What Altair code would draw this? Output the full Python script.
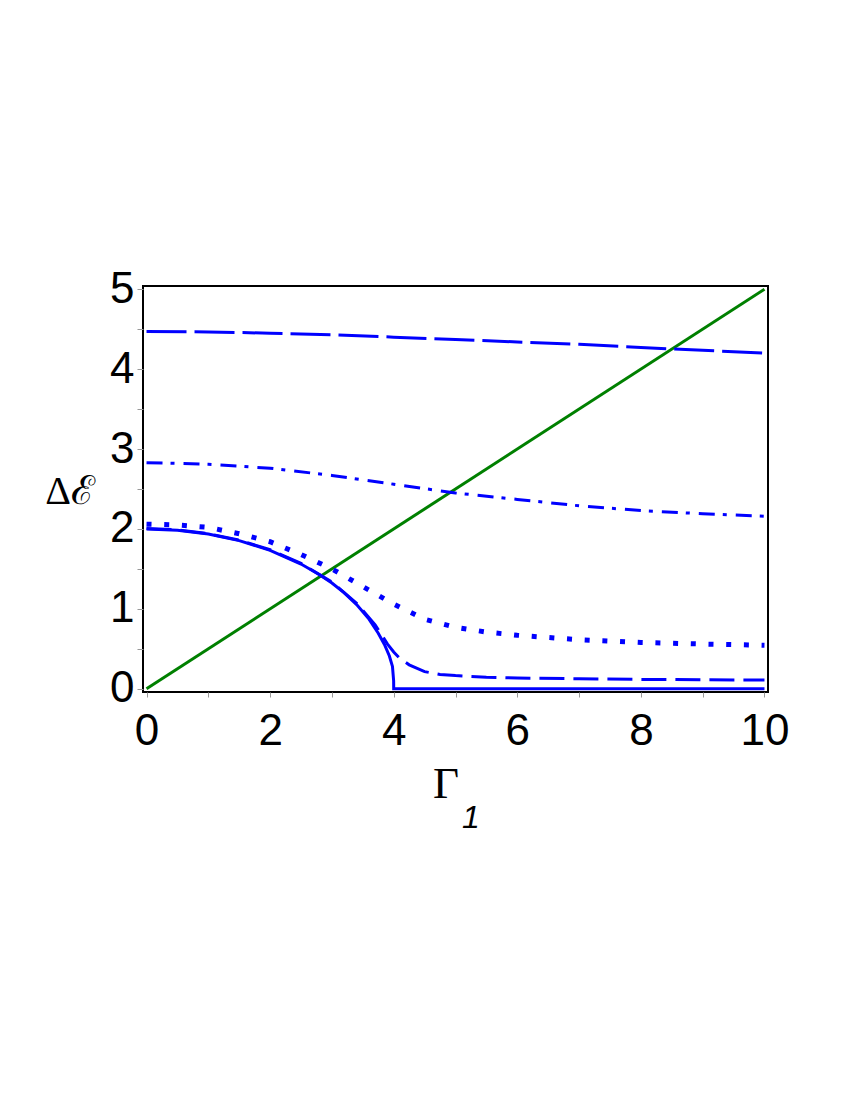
import altair as alt
import pandas as pd

# Green line
green_x = [0, 10]
green_y = [0, 5]

# Long dash (top)
ld_x = [0, 1, 2, 3, 4, 5, 6, 7, 8, 9, 10]
ld_y = [4.47, 4.465, 4.45, 4.43, 4.40, 4.37, 4.34, 4.31, 4.27, 4.235, 4.20]

# Dash-dot
dd_x = [0, 1, 2, 3, 4, 5, 6, 7, 8, 9, 10]
dd_y = [2.83, 2.81, 2.76, 2.67, 2.56, 2.45, 2.37, 2.29, 2.23, 2.19, 2.16]

# Dotted
dot_x = [0, 0.5, 1, 1.5, 2, 2.5, 3, 3.5, 4, 4.5, 5, 5.5, 6, 7, 8, 9, 10]
dot_y = [2.06, 2.05, 2.02, 1.94, 1.84, 1.68, 1.50, 1.28, 1.06, 0.87, 0.77, 0.71, 0.67, 0.615, 0.58, 0.56, 0.545]

# Medium dash
md_x = [0, 0.5, 1, 1.5, 2, 2.5, 3, 3.4, 3.7, 3.9, 4.0, 4.1, 4.25, 4.5, 4.75, 5, 5.5, 6, 7, 8, 9, 10]
md_y = [2.005, 1.99, 1.94, 1.86, 1.74, 1.57, 1.335, 1.07, 0.80, 0.56, 0.46, 0.38, 0.30, 0.215, 0.18, 0.165, 0.145, 0.135, 0.125, 0.118, 0.113, 0.11]

# Solid
so_x = [0, 0.5, 1, 1.5, 2, 2.5, 2.8, 3, 3.2, 3.4, 3.6, 3.75, 3.85, 3.93, 3.98, 3.999, 4.0, 5, 6, 7, 8, 9, 10]
so_y = [2.0, 1.984, 1.936, 1.854, 1.732, 1.561, 1.428, 1.323, 1.2, 1.054, 0.872, 0.696, 0.555, 0.41, 0.28, 0.1, 0.0, 0, 0, 0, 0, 0, 0]

x_ticks = list(range(0, 11))
y_ticks = [i * 0.5 for i in range(0, 11)]

xs = alt.Scale(domain=[-0.057, 10.057], nice=False, zero=False)
ys = alt.Scale(domain=[-0.04, 5.04], nice=False, zero=False)

X_AX = alt.Axis(values=x_ticks, domain=False, grid=False,
                tickColor="#999999", tickSize=5, tickWidth=1,
                labelExpr="datum.value % 2 == 0 ? format(datum.value, 'd') : ''",
                labelFont="Liberation Sans", labelFontSize=44,
                labelColor="black", labelPadding=12, title=None)
Y_AX = alt.Axis(values=y_ticks, domain=False, grid=False,
                tickColor="#999999", tickSize=6, tickWidth=1,
                labelExpr="datum.value % 1 == 0 ? format(datum.value, 'd') : ''",
                labelFont="Liberation Sans", labelFontSize=44,
                labelColor="black", labelPadding=3, title=None)

W, H = 625, 406


def line(xv, yv, color, width, dash=None):
    df = pd.DataFrame({"x": xv, "y": yv})
    kw = dict(color=color, strokeWidth=width, clip=True)
    if dash is not None:
        kw["strokeDash"] = dash
        kw["strokeCap"] = "butt"
    return alt.Chart(df).mark_line(**kw).encode(
        x=alt.X("x:Q", scale=xs, axis=X_AX),
        y=alt.Y("y:Q", scale=ys, axis=Y_AX),
    )


ytitle = alt.Chart(pd.DataFrame({"t": ["Δℰ"]})).mark_text(
    font="Liberation Serif", fontSize=40, align="center", baseline="middle", color="black"
).encode(text="t:N", x=alt.value(-73), y=alt.value(206))

xtitle = alt.Chart(pd.DataFrame({"t": ["Γ"]})).mark_text(
    font="Liberation Serif", fontSize=45, align="center", baseline="middle", color="black"
).encode(text="t:N", x=alt.value(303), y=alt.value(498))

xsub = alt.Chart(pd.DataFrame({"t": ["1"]})).mark_text(
    font="Liberation Sans", fontSize=32, fontStyle="italic", align="center",
    baseline="middle", color="black"
).encode(text="t:N", x=alt.value(328), y=alt.value(532))

chart = alt.layer(
    line(green_x, green_y, "#008000", 3),
    line(ld_x, ld_y, "#0000ff", 3, [40, 8]),
    line(dd_x, dd_y, "#0000ff", 3, [16, 8, 4, 9]),
    line(dot_x, dot_y, "#0000ff", 5, [5, 12.7]),
    line(md_x, md_y, "#0000ff", 3, [25, 9]),
    line(so_x, so_y, "#0000ff", 3),
    ytitle, xtitle, xsub,
).properties(
    width=W, height=H,
    background="white",
    autosize=alt.AutoSizeParams(type="none"),
    padding={"left": 135, "top": 278, "right": 70, "bottom": 200},
).configure_view(stroke="black", strokeWidth=2)

chart.save("out.html", embed_options={"renderer": "svg", "actions": False})
